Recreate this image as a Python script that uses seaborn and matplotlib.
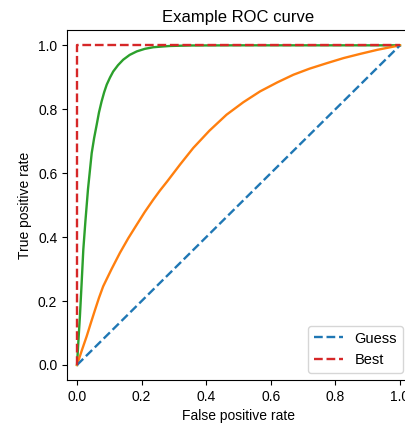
"""
Example ROC curve: guess line, best line and two classifier curves.
"""

import matplotlib

matplotlib.use("Agg")
import matplotlib.pyplot as plt
import seaborn as sns

# Classifier curves (false positive rate, true positive rate)
good_fpr = [0.0, 0.004, 0.009, 0.014, 0.0195, 0.026, 0.034, 0.0455, 0.053, 0.061, 0.068,
            0.076, 0.084, 0.092, 0.102, 0.112, 0.127, 0.143, 0.163, 0.185, 0.21, 0.236,
            0.26, 0.288, 0.35, 0.5, 0.7, 1.0]
good_tpr = [0.0, 0.07, 0.153, 0.25, 0.361, 0.45, 0.55, 0.663, 0.71, 0.752, 0.79,
            0.824, 0.853, 0.877, 0.899, 0.918, 0.938, 0.955, 0.97, 0.981, 0.989, 0.994,
            0.996, 0.998, 0.9995, 1.0, 1.0, 1.0]

fair_fpr = [0.0, 0.015, 0.030, 0.043, 0.056, 0.068, 0.081, 0.107, 0.133, 0.159, 0.185,
            0.21, 0.236, 0.257, 0.279, 0.319, 0.36, 0.41, 0.463, 0.515, 0.567, 0.62,
            0.67, 0.72, 0.773, 0.825, 0.876, 0.93, 0.965, 1.0]
fair_tpr = [0.0, 0.046, 0.09, 0.132, 0.173, 0.21, 0.246, 0.3, 0.351, 0.397, 0.439,
            0.479, 0.517, 0.546, 0.574, 0.627, 0.679, 0.733, 0.783, 0.822, 0.856, 0.884,
            0.908, 0.927, 0.944, 0.96, 0.973, 0.986, 0.993, 1.0]

guess_fpr = [0.0, 1.0]
guess_tpr = [0.0, 1.0]

best_fpr = [0.0, 0.0, 1.0]
best_tpr = [0.0, 1.0, 1.0]

plt.rcParams["font.family"] = ["Liberation Sans", "DejaVu Sans"]
plt.rcParams["lines.linewidth"] = 1.7
colors = sns.color_palette("tab10")

fig = plt.figure(figsize=(4.06, 4.25), dpi=100)
ax = fig.add_axes([67 / 406, 45 / 425, 343 / 406, 349.7 / 425])

sns.lineplot(x=good_fpr, y=good_tpr, ax=ax, color=colors[2], sort=False, estimator=None)
sns.lineplot(x=fair_fpr, y=fair_tpr, ax=ax, color=colors[1], sort=False, estimator=None)
sns.lineplot(
    x=guess_fpr, y=guess_tpr, ax=ax, color=colors[0], linestyle="--",
    label="Guess", sort=False, estimator=None,
)
sns.lineplot(
    x=best_fpr, y=best_tpr, ax=ax, color=colors[3], linestyle="--",
    label="Best", sort=False, estimator=None,
)

ax.set(
    xlabel="False positive rate",
    ylabel="True positive rate",
    title="Example ROC curve",
    xlim=(-0.031, 1.031),
    ylim=(-0.047, 1.047),
)
ax.set_xticks([0.0, 0.2, 0.4, 0.6, 0.8, 1.0])
ax.set_yticks([0.0, 0.2, 0.4, 0.6, 0.8, 1.0])
ax.legend(loc="lower right", fontsize=10.5)

fig.savefig("out.png", dpi=100)
